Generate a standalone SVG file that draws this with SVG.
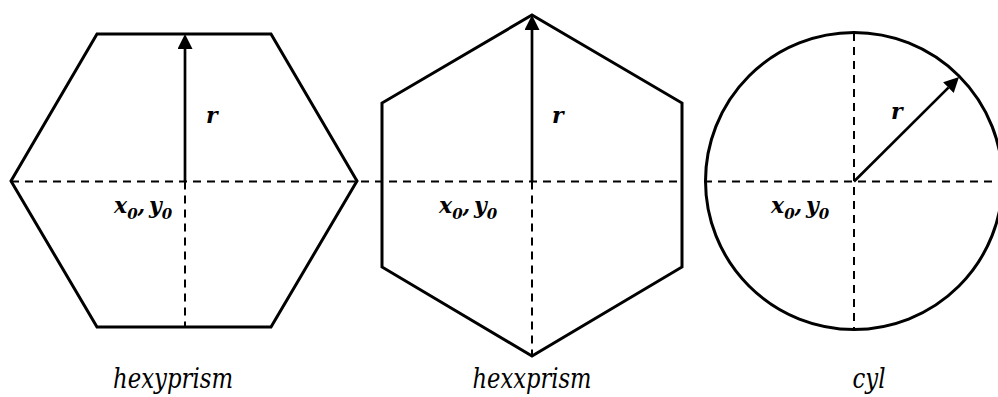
<svg xmlns="http://www.w3.org/2000/svg" width="998" height="397" viewBox="0 0 998 397">
<style>
.shape{fill:none;stroke:#000;stroke-width:3;stroke-linejoin:miter}
.dash{fill:none;stroke:#000;stroke-width:2;stroke-dasharray:8 6}
.arrow{fill:none;stroke:#000;stroke-width:2.7}
.lbl{font-family:'DejaVu Serif','Liberation Serif',serif;font-weight:bold;font-style:italic;font-size:22px;fill:#000;word-spacing:-4px}
.sub{font-size:15px}
.cap{font-family:'DejaVu Serif','Liberation Serif',serif;font-style:italic;font-size:27px;fill:#000;text-anchor:middle}
</style>
<defs>
<marker id="ah" markerUnits="userSpaceOnUse" markerWidth="16" markerHeight="16" refX="0" refY="7.5" orient="auto" viewBox="0 0 16 16">
<path d="M0,0 L15,7.5 L0,15 Z" fill="#000"/>
</marker>
</defs>
<rect width="998" height="397" fill="#fff"/>
<g id="connectors">
<line class="dash" x1="11" y1="181.5" x2="682" y2="181.5"/>
<line class="dash" x1="185" y1="181.5" x2="185" y2="327"/>
<line class="dash" x1="532" y1="181.5" x2="532" y2="356"/>
<line class="dash" x1="704" y1="181.5" x2="998" y2="181.5"/>
<line class="dash" x1="854" y1="33" x2="854" y2="328"/>
<line class="arrow" x1="185" y1="181.5" x2="185" y2="49" marker-end="url(#ah)"/>
<line class="arrow" x1="532" y1="181.5" x2="532" y2="30" marker-end="url(#ah)"/>
<line class="arrow" x1="854" y1="181.5" x2="948.4" y2="87.6" marker-end="url(#ah)"/>
</g>
<g id="hexyprism">
<polygon class="shape" points="97,34 271,34 357,181 271,327 97,327 11,181"/>
<text class="lbl" x="206" y="123">r</text>
<text class="lbl" x="114" y="213">x<tspan class="sub" dy="6">0</tspan><tspan dy="-6">, y</tspan><tspan class="sub" dy="6">0</tspan></text>
<text class="cap" x="173" y="388" textLength="120" lengthAdjust="spacingAndGlyphs">hexyprism</text>
</g>
<g id="hexxprism">
<polygon class="shape" points="532,15 682,103 682,267 532,356 382,267 382,103"/>
<text class="lbl" x="552" y="123">r</text>
<text class="lbl" x="439" y="213">x<tspan class="sub" dy="6">0</tspan><tspan dy="-6">, y</tspan><tspan class="sub" dy="6">0</tspan></text>
<text class="cap" x="532" y="388" textLength="119" lengthAdjust="spacingAndGlyphs">hexxprism</text>
</g>
<g id="cyl">
<circle class="shape" cx="854" cy="181" r="148.5"/>
<text class="lbl" x="891" y="119">r</text>
<text class="lbl" x="771" y="213">x<tspan class="sub" dy="6">0</tspan><tspan dy="-6">, y</tspan><tspan class="sub" dy="6">0</tspan></text>
<text class="cap" x="869" y="388" textLength="33" lengthAdjust="spacingAndGlyphs">cyl</text>
</g>
</svg>
